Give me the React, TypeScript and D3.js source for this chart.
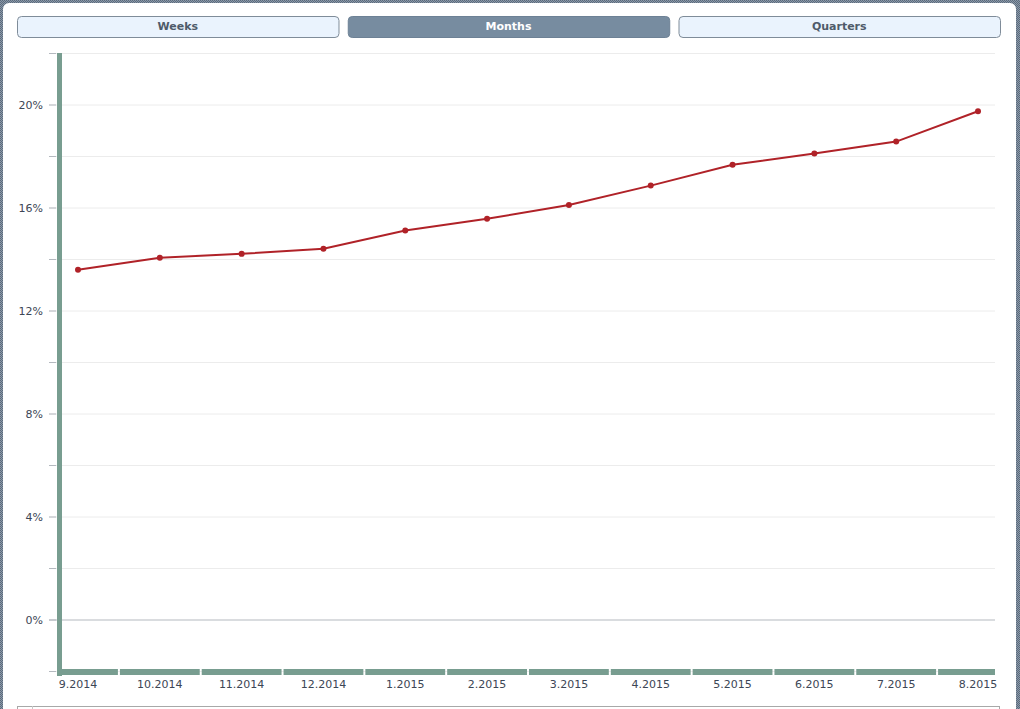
import React from "react";
import * as d3 from "d3";

const categories = ["9.2014", "10.2014", "11.2014", "12.2014", "1.2015", "2.2015", "3.2015", "4.2015", "5.2015", "6.2015", "7.2015", "8.2015"];
const values = [13.58, 14.05, 14.2, 14.4, 15.11, 15.56, 16.1, 16.85, 17.66, 18.1, 18.56, 19.74];
const labelTicks = [0, 4, 8, 12, 16, 20];
const allTicks = [-2, 0, 2, 4, 6, 8, 10, 12, 14, 16, 18, 20, 22];
const buttons = ["Weeks", "Months", "Quarters"];
const activeButton = "Months";

const W = 1020;
const H = 709;
const plotLeft = 57;
const plotRight = 995;
const font = "Verdana, 'DejaVu Sans', sans-serif";

export default function App() {
  const x = d3.scalePoint<string>().domain(categories).range([78, 978]);
  const y = d3.scaleLinear().domain([-2, 22]).range([671, 53]);
  const step = x.step();
  const line = d3
    .line<number>()
    .x((_, i) => x(categories[i]) as number)
    .y((d) => y(d));

  const btnX = d3.scaleBand<string>().domain(buttons).range([17, 1000]).paddingInner(0.028);
  const green = "#789d90";

  return (
    <svg width={W} height={H} style={{ position: "absolute", left: 0, top: 0 }} fontFamily={font}>
      <defs>
        <pattern id="hatch" width="2" height="2" patternUnits="userSpaceOnUse">
          <rect width="2" height="2" fill="#8a98a8" />
          <rect width="1" height="1" fill="#5c6b7c" />
          <rect x="1" y="1" width="1" height="1" fill="#5c6b7c" />
        </pattern>
      </defs>
      <rect x={0} y={0} width={W} height={H} fill="url(#hatch)" />
      <rect x={3} y={3} width={1013} height={H + 10} rx={6} fill="#ffffff" />

      {/* buttons */}
      {buttons.map((b) => {
        const active = b === activeButton;
        const bx = btnX(b) as number;
        const bw = btnX.bandwidth();
        return (
          <g key={b}>
            <rect x={bx + 0.5} y={16.5} width={bw} height={21} rx={4} fill={active ? "#778ca0" : "#eaf3fd"} stroke={active ? "#6d8195" : "#7f8c99"} />
            <text x={bx + bw / 2} y={30} textAnchor="middle" fontSize={11} fontWeight="bold" fill={active ? "#ffffff" : "#4f5b6a"}>
              {b}
            </text>
          </g>
        );
      })}

      {/* grid */}
      {allTicks.map((t) => (
        <g key={t}>
          <line x1={49} x2={plotRight} y1={y(t) + 0.5} y2={y(t) + 0.5} stroke={t === 0 ? "#b4b9bf" : "#ececec"} />
          <line x1={49} x2={56} y1={y(t) + 0.5} y2={y(t) + 0.5} stroke="#b4b9bf" />
        </g>
      ))}
      {labelTicks.map((t) => (
        <text key={t} x={43} y={y(t) + 4} textAnchor="end" fontSize={11} fill="#3c4655">
          {t}%
        </text>
      ))}

      {/* axis bars */}
      <rect x={plotLeft} y={53} width={5} height={623} fill={green} />
      {categories.map((c, i) => {
        const cx = x(c) as number;
        const x0 = i === 0 ? plotLeft : cx - step / 2 + 1;
        const x1 = i === categories.length - 1 ? plotRight : cx + step / 2 - 1;
        return <rect key={c} x={x0} y={669} width={x1 - x0} height={6} fill={green} />;
      })}
      {categories.map((c) => (
        <text key={c} x={x(c) as number} y={688} textAnchor="middle" fontSize={11} fill="#3c4655">
          {c}
        </text>
      ))}

      {/* series */}
      <path d={line(values) || ""} fill="none" stroke="#b02228" strokeWidth={2} />
      {values.map((v, i) => (
        <circle key={i} cx={x(categories[i]) as number} cy={y(v)} r={3} fill="#b02228" />
      ))}

      {/* bottom panel */}
      <rect x={17.5} y={706.5} width={982} height={20} fill="none" stroke="#a8a8a8" />
      <line x1={32.5} x2={32.5} y1={706} y2={709} stroke="#c8c8c8" />
    </svg>
  );
}
